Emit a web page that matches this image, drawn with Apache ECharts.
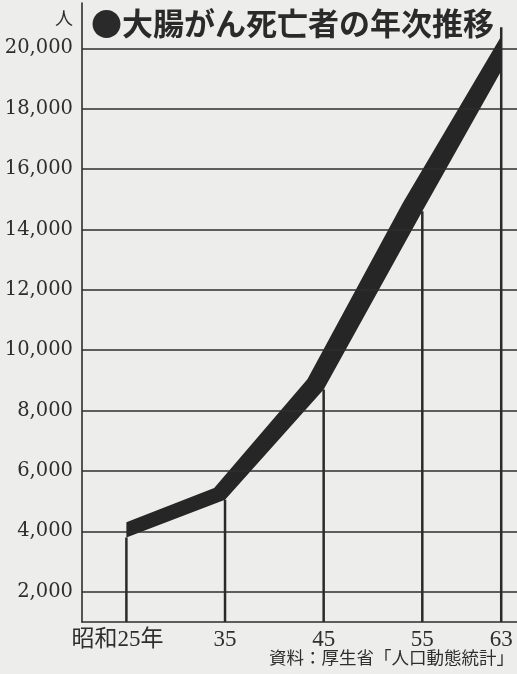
<!DOCTYPE html>
<html><head><meta charset="utf-8">
<script src="https://cdn.jsdelivr.net/npm/echarts@6/dist/echarts.min.js"></script>
<style>html,body{margin:0;padding:0;background:#ededeb;}#c{width:517px;height:674px;}</style>
</head><body><div id="c"></div>
<script>
// Data (昭和 years)
const years = [25, 35, 45, 55, 63];
const xTickLabels = ['昭和25年', '35', '45', '55', '63'];
// lower edge of the thick band (passes through the data points)
const bandBottom = [3800, 5050, 8700, 14600, 19250];
// upper edge of the thick band: its corners (year, value)
const bandTopYears = [25, 33.9, 43.35, 53.0, 63];
const bandTopValues = [4300, 5440, 9040, 14870, 20400];
// vertical lines rising from the axis to the band
const dropLineTop = [3800, 5050, 8700, 14600, 20700];
const yTicks = [2000, 4000, 6000, 8000, 10000, 12000, 14000, 16000, 18000, 20000];
const titleText = '●大腸がん死亡者の年次推移';
const unitText = '人';
const sourceText = '資料：厚生省「人口動態統計」';

const ink = '#2e2e2e';
const chart = echarts.init(document.getElementById('c'));
chart.setOption({
  backgroundColor: '#ededeb',
  animation: false,
  title: {
    text: titleText, left: 86, top: 3,
    textStyle: {fontFamily: 'Noto Sans CJK JP', fontSize: 31, fontWeight: 'bold', color: '#2a2a2a'}
  },
  graphic: [
    {type: 'text', right: 444, top: 9, style: {text: unitText, font: '18px "Noto Sans CJK JP"', fill: ink}},
    {type: 'text', right: 3, top: 649, style: {text: sourceText, font: '17.5px "Noto Sans CJK JP"', fill: ink}}
  ],
  grid: {left: 82, right: 0, top: 3, bottom: 52},
  xAxis: {
    type: 'value', min: 20.5, max: 64.6,
    axisLine: {show: true, lineStyle: {color: ink, width: 1.6}},
    axisTick: {show: false},
    splitLine: {show: false},
    axisLabel: {
      customValues: years,
      margin: 6,
      fontFamily: 'Liberation Serif, Noto Sans CJK JP', fontSize: 23, color: ink,
      formatter: function (v) {
        const i = years.indexOf(Math.round(v));
        if (i < 0) return '';
        return i === 0 ? '{a|' + xTickLabels[i] + '}' : xTickLabels[i];
      },
      rich: {a: {fontFamily: 'Liberation Serif, Noto Sans CJK JP', fontSize: 23, color: ink, padding: [0, 18, 0, 0]}}
    }
  },
  yAxis: {
    type: 'value', min: 1000, max: 21500, interval: 1000,
    axisLine: {show: true, lineStyle: {color: ink, width: 1.6}},
    axisTick: {show: false},
    splitLine: {show: false},
    axisLabel: {
      margin: 9, fontFamily: 'DejaVu Serif', fontSize: 19.5, color: ink,
      formatter: function (v) {
        return yTicks.indexOf(v) >= 0 ? v.toLocaleString('en-US') : '';
      }
    }
  },
  series: [
    {
      type: 'bar', barWidth: 2.5, z: 2,
      itemStyle: {color: '#2a2a2a'},
      data: years.map((y, i) => [y, dropLineTop[i]]),
      markLine: {
        silent: true, symbol: 'none', label: {show: false},
        lineStyle: {color: ink, width: 1.6, type: 'solid'},
        data: yTicks.map(v => ({yAxis: v}))
      }
    },
    {
      type: 'custom', z: 4,
      data: years.map((y, i) => [y, bandBottom[i]]),
      renderItem: function (params, api) {
        if (params.dataIndex !== 0) return null;
        const lower = years.map((y, i) => api.coord([y, bandBottom[i]]));
        const upper = bandTopYears.map((y, i) => api.coord([y, bandTopValues[i]])).reverse();
        return {
          type: 'polygon',
          shape: {points: lower.concat(upper)},
          style: {fill: '#262626', stroke: null}
        };
      }
    }
  ]
});
</script></body></html>
